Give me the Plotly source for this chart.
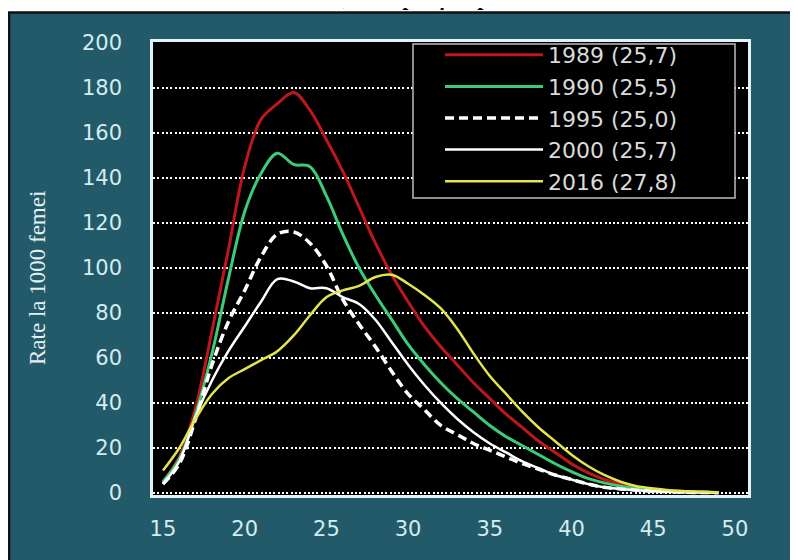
import plotly.graph_objects as go

# age-specific fertility rates (per 1000 women), ages 15..49
ages = list(range(15, 50))

rates_1989 = [5, 16, 38, 72, 108, 145, 166, 173, 178, 170, 157, 143, 127, 111, 97,
              85, 74, 65, 57, 49, 42, 35, 29, 23, 18, 13, 9, 6, 4, 2.5,
              1.5, 1, 0.5, 0.3, 0.2]
rates_1990 = [5, 15, 35, 62, 95, 125, 142, 151, 146, 145, 132, 115, 100, 88, 77,
              66, 57, 49, 42, 36, 30, 25, 21, 17, 13, 9.5, 6.5, 4.5, 3, 2,
              1.2, 0.8, 0.5, 0.3, 0.2]
rates_1995 = [4, 13, 33, 57, 76, 90, 105, 115, 116, 111, 101, 86, 75, 65, 54,
              44, 37, 30, 26, 22, 19, 16, 13, 10.5, 8, 6, 4, 2.5, 1.8, 1.2,
              0.8, 0.5, 0.3, 0.2, 0.1]
rates_2000 = [4, 14, 34, 50, 63, 74, 85, 95, 94, 91, 91, 87, 84, 77, 67,
              57, 48, 40, 33, 27, 22, 18, 14, 11, 8, 6, 4, 2.5, 1.8, 1.2,
              0.8, 0.5, 0.3, 0.2, 0.1]
rates_2016 = [10, 20, 33, 44, 51, 55, 59, 63, 70, 79, 87, 90, 92, 96, 97,
              93, 88, 82, 73, 62, 52, 44, 36, 29, 23, 17, 12, 8, 5, 3,
              2, 1.2, 0.8, 0.5, 0.3]

years = ['1989', '1990', '1995', '2000', '2016']
mean_ages = ['25,7', '25,5', '25,0', '25,7', '27,8']
series = [rates_1989, rates_1990, rates_1995, rates_2000, rates_2016]

y_ticks = [0, 20, 40, 60, 80, 100, 120, 140, 160, 180, 200]
x_ticks = [15, 20, 25, 30, 35, 40, 45, 50]

colors = ['#bd171c', '#3ccb78', '#ffffff', '#ffffff', '#e4e44c']
dashes = ['solid', 'solid', '9px,5px', 'solid', 'solid']
widths = [3, 3, 3.5, 2.5, 2.5]

TEAL = '#235a69'
OFF = 8  # page body margin, figure starts 8px in
W, H = 798 - OFF, 560 - OFF
L, R, T, B = 153 - OFF, 50, 42 - OFF, 65
PW, PH = W - L - R, H - T - B


# helpers: screen pixel -> paper fraction
def px_x(p):
    return (p - OFF - L) / PW


def px_y(p):
    return (H + OFF - B - p) / PH


fig = go.Figure()
for yr, ma, vals, c, d, w in zip(years, mean_ages, series, colors, dashes, widths):
    fig.add_trace(go.Scatter(
        x=ages, y=vals, mode='lines', name=f'{yr} ({ma})',
        line=dict(color=c, dash=d, width=w, shape='spline', smoothing=1.0),
    ))

tick_font = dict(family='DejaVu Sans', size=21, color='#d3ecef')

fig.update_layout(
    width=W, height=H,
    margin=dict(l=L, r=R, t=T, b=B),
    paper_bgcolor=TEAL,
    plot_bgcolor='black',
    showlegend=True,
    legend=dict(
        x=px_x(440), y=px_y(34), xanchor='left', yanchor='top',
        bgcolor='rgba(0,0,0,0)', borderwidth=0,
        font=dict(family='DejaVu Sans', size=22, color='#dadada'),
        itemwidth=98,
    ),
    xaxis=dict(
        range=[14.39, 50.8], tickvals=x_ticks, showgrid=False, zeroline=False,
        showline=True, linecolor='#e2f3f5', linewidth=2.5, mirror=True,
        ticks='', ticklabelstandoff=13, tickfont=tick_font,
    ),
    yaxis=dict(
        range=[-0.9, 200.4], tickvals=y_ticks, zeroline=False,
        showgrid=True, gridcolor='#ffffff', gridwidth=1.5, griddash='2px,2.3px',
        showline=True, linecolor='#e2f3f5', linewidth=2.5, mirror=True,
        ticks='', ticklabelstandoff=24, tickfont=tick_font,
    ),
)

# white margin + dark edge of the framed picture
fig.add_shape(type='rect', xref='paper', yref='paper', x0=-1, x1=2,
              y0=px_y(12), y1=2, fillcolor='white', line_width=0)
fig.add_shape(type='line', xref='paper', yref='paper', x0=px_x(8), x1=2,
              y0=px_y(12.5), y1=px_y(12.5), line=dict(color='#111111', width=2.5))
fig.add_shape(type='line', xref='paper', yref='paper', x0=px_x(9), x1=px_x(9),
              y0=-1, y1=px_y(12), line=dict(color='#111111', width=2.5))
fig.add_shape(type='rect', xref='paper', yref='paper', x0=-1, x1=px_x(8),
              y0=-1, y1=2, fillcolor='white', line_width=0)

# legend box
fig.add_shape(type='rect', xref='paper', yref='paper', layer='above',
              x0=px_x(413), x1=px_x(735), y0=px_y(198), y1=px_y(44),
              fillcolor='black', line=dict(color='#bcbcbc', width=1.5))

# title, mostly cut off at the top edge
fig.add_annotation(text='<b><i>Fertilitatea, rate specifice pe vârste</i></b>',
                   xref='paper', yref='paper', x=px_x(400), y=px_y(12),
                   xanchor='center', yanchor='bottom', showarrow=False,
                   font=dict(family='Liberation Serif', size=22, color='black'))

# y-axis title
fig.add_annotation(text='Rate la 1000 femei', xref='paper', yref='paper',
                   x=px_x(37), y=px_y(278), xanchor='center', yanchor='middle',
                   textangle=-90, showarrow=False,
                   font=dict(family='Liberation Serif', size=23, color='#e4eff1'))

fig.write_html('out.html')
